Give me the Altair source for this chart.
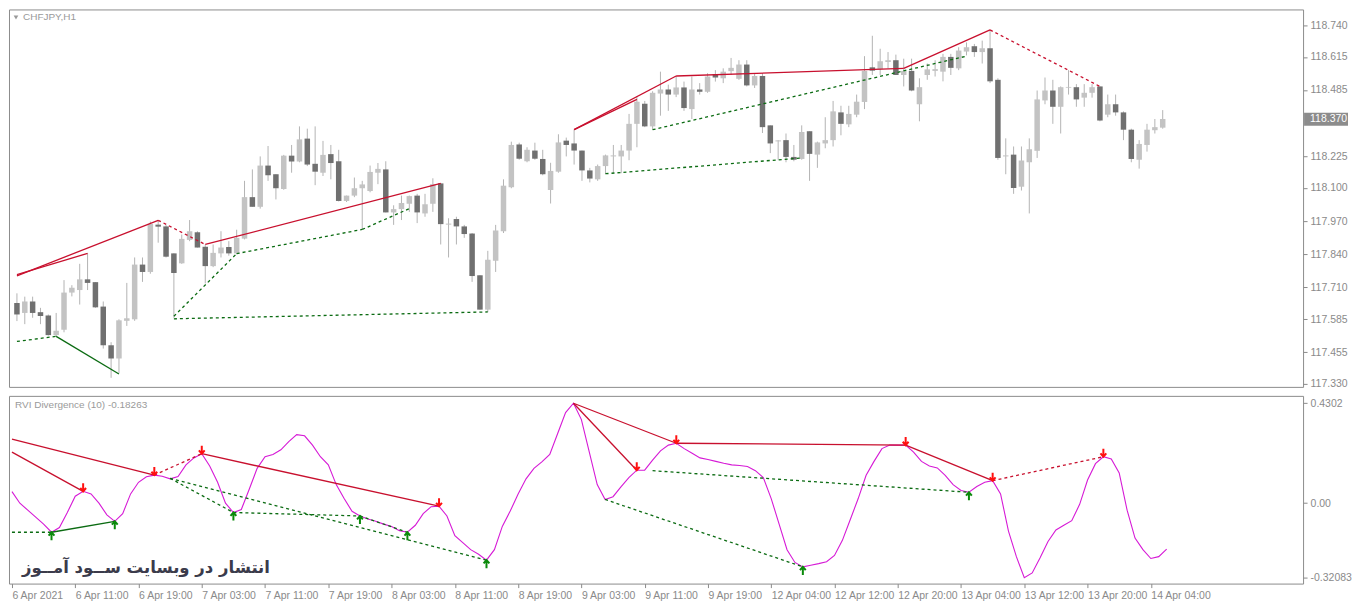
import json
import altair as alt
import pandas as pd

# ---------------- data ----------------
symbol_title = "CHFJPY,H1"
ind_title = "RVI Divergence (10) -0.18263"
watermark = "انتشار در وبسایت ســود آمــوز"

tick_labels = ["6 Apr 2021", "6 Apr 11:00", "6 Apr 19:00", "7 Apr 03:00", "7 Apr 11:00",
               "7 Apr 19:00", "8 Apr 03:00", "8 Apr 11:00", "8 Apr 19:00", "9 Apr 03:00",
               "9 Apr 11:00", "9 Apr 19:00", "12 Apr 04:00", "12 Apr 12:00", "12 Apr 20:00",
               "13 Apr 04:00", "13 Apr 12:00", "13 Apr 20:00", "14 Apr 04:00"]
tick_bars = [8 * k for k in range(len(tick_labels))]

price_ticks = [118.740, 118.615, 118.485, 118.225, 118.100, 117.970,
               117.840, 117.710, 117.585, 117.455, 117.330]
last_price = [118.370]

open_ = [117.648, 117.609, 117.654, 117.612, 117.599, 117.522, 117.543, 117.689, 117.699, 117.741,
         117.730, 117.634, 117.482, 117.430, 117.578, 117.584, 117.799, 117.770, 117.956, 117.949,
         117.843, 117.804, 117.896, 117.926, 117.869, 117.793, 117.843, 117.868, 117.843, 117.901,
         118.064, 118.026, 118.188, 118.154, 118.096, 118.227, 118.204, 118.294, 118.195, 118.160,
         118.233, 118.205, 118.049, 118.070, 118.099, 118.088, 118.160, 118.173, 118.004, 118.017,
         118.038, 118.070, 118.000, 118.038, 118.118, 117.956, 117.978, 117.949, 117.921, 117.757,
         117.622, 117.814, 117.930, 118.103, 118.271, 118.205, 118.247, 118.214, 118.092, 118.164,
         118.286, 118.275, 118.247, 118.169, 118.134, 118.186, 118.224, 118.224, 118.247, 118.352,
         118.431, 118.342, 118.471, 118.487, 118.467, 118.495, 118.410, 118.487, 118.478, 118.547,
         118.531, 118.559, 118.529, 118.585, 118.503, 118.540, 118.346, 118.283, 118.288, 118.222,
         118.214, 118.323, 118.231, 118.275, 118.288, 118.397, 118.350, 118.388, 118.438, 118.574,
         118.567, 118.595, 118.602, 118.544, 118.560, 118.429, 118.544, 118.560, 118.557, 118.615,
         118.570, 118.636, 118.657, 118.634, 118.649, 118.525, 118.224, 118.231, 118.105, 118.201,
         118.246, 118.444, 118.483, 118.419, 118.494, 118.496, 118.455, 118.474, 118.499, 118.388,
         118.429, 118.397, 118.329, 118.211, 118.269, 118.327, 118.337]
high = [117.686, 117.673, 117.673, 117.629, 117.603, 117.609, 117.738, 117.718, 117.802, 117.843,
        117.730, 117.654, 117.494, 117.584, 117.727, 117.827, 117.827, 117.968, 117.973, 117.955,
        117.843, 117.917, 117.974, 117.930, 117.878, 117.878, 117.930, 117.891, 117.936, 118.128,
        118.173, 118.224, 118.265, 118.154, 118.230, 118.269, 118.342, 118.333, 118.342, 118.285,
        118.269, 118.250, 118.070, 118.141, 118.128, 118.188, 118.198, 118.205, 118.032, 118.070,
        118.070, 118.077, 118.077, 118.138, 118.118, 117.981, 117.987, 117.955, 117.923, 117.757,
        117.853, 117.955, 118.134, 118.282, 118.278, 118.260, 118.278, 118.250, 118.199, 118.311,
        118.298, 118.329, 118.247, 118.179, 118.192, 118.231, 118.269, 118.269, 118.391, 118.461,
        118.442, 118.480, 118.557, 118.506, 118.540, 118.518, 118.538, 118.512, 118.551, 118.563,
        118.570, 118.611, 118.602, 118.602, 118.551, 118.551, 118.346, 118.288, 118.314, 118.269,
        118.346, 118.323, 118.282, 118.378, 118.442, 118.423, 118.423, 118.467, 118.618, 118.698,
        118.647, 118.634, 118.624, 118.608, 118.608, 118.531, 118.589, 118.602, 118.627, 118.627,
        118.653, 118.672, 118.666, 118.679, 118.721, 118.531, 118.295, 118.263, 118.263, 118.295,
        118.483, 118.534, 118.525, 118.499, 118.563, 118.508, 118.508, 118.508, 118.499, 118.467,
        118.467, 118.401, 118.333, 118.288, 118.352, 118.371, 118.406]
low = [117.577, 117.565, 117.590, 117.565, 117.520, 117.514, 117.533, 117.674, 117.642, 117.699,
       117.629, 117.469, 117.354, 117.373, 117.558, 117.578, 117.731, 117.763, 117.885, 117.827,
       117.590, 117.802, 117.891, 117.866, 117.725, 117.789, 117.827, 117.834, 117.840, 117.898,
       118.026, 118.019, 118.128, 118.055, 118.093, 118.160, 118.201, 118.186, 118.111, 118.147,
       118.134, 118.047, 118.045, 118.064, 117.936, 118.083, 118.115, 118.004, 117.955, 117.974,
       118.006, 117.962, 117.987, 118.006, 117.878, 117.827, 117.878, 117.904, 117.731, 117.622,
       117.612, 117.770, 117.923, 118.099, 118.211, 118.201, 118.211, 118.150, 118.039, 118.160,
       118.224, 118.192, 118.128, 118.122, 118.128, 118.154, 118.160, 118.158, 118.209, 118.260,
       118.339, 118.329, 118.384, 118.403, 118.457, 118.403, 118.371, 118.467, 118.474, 118.518,
       118.512, 118.544, 118.525, 118.499, 118.493, 118.316, 118.237, 118.211, 118.201, 118.205,
       118.211, 118.128, 118.179, 118.256, 118.263, 118.307, 118.339, 118.378, 118.410, 118.544,
       118.544, 118.570, 118.544, 118.499, 118.480, 118.362, 118.525, 118.538, 118.519, 118.544,
       118.563, 118.621, 118.615, 118.589, 118.512, 118.211, 118.154, 118.077, 118.090, 118.000,
       118.218, 118.429, 118.352, 118.314, 118.467, 118.419, 118.419, 118.455, 118.362, 118.378,
       118.384, 118.288, 118.201, 118.176, 118.243, 118.314, 118.333]
close = [117.603, 117.654, 117.609, 117.597, 117.522, 117.539, 117.689, 117.708, 117.741, 117.727,
         117.631, 117.482, 117.430, 117.580, 117.588, 117.799, 117.770, 117.959, 117.948, 117.830,
         117.766, 117.900, 117.930, 117.866, 117.793, 117.845, 117.866, 117.843, 117.904, 118.064,
         118.026, 118.188, 118.150, 118.099, 118.227, 118.204, 118.291, 118.192, 118.164, 118.230,
         118.198, 118.049, 118.070, 118.099, 118.114, 118.163, 118.175, 118.004, 118.017, 118.041,
         118.068, 118.004, 118.036, 118.115, 117.958, 117.960, 117.949, 117.919, 117.754, 117.622,
         117.818, 117.933, 118.109, 118.269, 118.215, 118.250, 118.215, 118.154, 118.167, 118.279,
         118.269, 118.247, 118.169, 118.137, 118.186, 118.228, 118.228, 118.247, 118.352, 118.439,
         118.342, 118.474, 118.487, 118.467, 118.495, 118.414, 118.487, 118.478, 118.538, 118.534,
         118.557, 118.572, 118.585, 118.503, 118.540, 118.339, 118.275, 118.287, 118.222, 118.211,
         118.320, 118.234, 118.279, 118.288, 118.401, 118.352, 118.391, 118.439, 118.560, 118.561,
         118.598, 118.602, 118.544, 118.560, 118.483, 118.496, 118.566, 118.567, 118.615, 118.572,
         118.640, 118.653, 118.634, 118.649, 118.519, 118.218, 118.228, 118.100, 118.208, 118.252,
         118.448, 118.483, 118.419, 118.496, 118.497, 118.448, 118.474, 118.496, 118.365, 118.429,
         118.397, 118.329, 118.214, 118.273, 118.329, 118.339, 118.371]

rvi = [0.05, 0.0, -0.03, -0.06, -0.09, -0.125, -0.105, -0.04, 0.03, 0.051,
       0.04, 0.0, -0.05, -0.078, -0.045, 0.04, 0.09, 0.114, 0.121, 0.116,
       0.105, 0.115, 0.165, 0.195, 0.213, 0.16, 0.09, 0.0, -0.04, -0.027,
       0.06, 0.15, 0.2, 0.21, 0.23, 0.265, 0.295, 0.29, 0.25, 0.2,
       0.165, 0.08, 0.02, -0.035, -0.055, -0.068, -0.078, -0.09, -0.1, -0.118,
       -0.125, -0.095, -0.045, -0.015, -0.013, -0.055, -0.14, -0.17, -0.2, -0.22,
       -0.245, -0.2, -0.1, -0.034, 0.04, 0.105, 0.15, 0.178, 0.21, 0.3,
       0.39, 0.4302, 0.36, 0.22, 0.08, 0.016, 0.028, 0.07, 0.11, 0.142,
       0.142, 0.185, 0.225, 0.25, 0.258, 0.235, 0.215, 0.195, 0.188, 0.18,
       0.172, 0.165, 0.162, 0.158, 0.14, 0.11, 0.02, -0.09, -0.2, -0.255,
       -0.274, -0.267, -0.26, -0.252, -0.225, -0.16, -0.07, 0.02, 0.12, 0.18,
       0.235, 0.25, 0.25, 0.25, 0.22, 0.18, 0.16, 0.152, 0.12, 0.08,
       0.055, 0.047, 0.072, 0.09, 0.097, 0.04, -0.12, -0.23, -0.3208, -0.3,
       -0.235, -0.165, -0.115, -0.095, -0.075, -0.005, 0.1, 0.17, 0.2, 0.19,
       0.13, -0.03, -0.15, -0.2, -0.238, -0.23, -0.198]

sell_bars = [9, 18, 24, 54, 79, 84, 113, 124, 138]
sell_vals = [0.051, 0.121, 0.213, -0.013, 0.142, 0.258, 0.25, 0.097, 0.2]
buy_bars = [5, 13, 28, 44, 50, 60, 100, 121]
buy_vals = [-0.125, -0.078, -0.04, -0.055, -0.125, -0.245, -0.274, 0.047]

# divergence segments: start bar, start value, end bar, end value, kind, style
price_seg_b1 = [0, 0, 18, 24, 71, 71, 84, 113, 124, 0, 5, 20, 20, 28, 44, 75, 81]
price_seg_p1 = [117.755, 117.760, 117.973, 117.878, 118.329, 118.329, 118.540, 118.570, 118.721,
                117.497, 117.517, 117.586, 117.596, 117.842, 117.937, 118.156, 118.329]
price_seg_b2 = [18, 9, 24, 54, 84, 79, 113, 124, 138, 5, 13, 60, 28, 44, 50, 100, 121]
price_seg_p2 = [117.973, 117.843, 117.878, 118.118, 118.540, 118.448, 118.570, 118.721, 118.499,
                117.517, 117.369, 117.613, 117.842, 117.937, 118.019, 118.218, 118.618]
seg_kind = ["bear"] * 9 + ["bull"] * 8
seg_style = ["solid", "solid", "dashed", "solid", "solid", "solid", "solid", "solid", "dashed",
             "dashed", "solid", "dashed", "dashed", "dashed", "dashed", "dashed", "dashed"]
ind_seg_b1 = [0, 0, 18, 24, 71, 71, 84, 113, 124, 0, 5, 20, 20, 28, 44, 75, 81]
ind_seg_v1 = [0.276, 0.22, 0.121, 0.213, 0.4302, 0.4302, 0.258, 0.25, 0.097,
              -0.125, -0.125, 0.107, 0.107, -0.04, -0.055, 0.016, 0.14]
ind_seg_b2 = [18, 9, 24, 54, 84, 79, 113, 124, 138, 5, 13, 60, 28, 44, 50, 100, 121]
ind_seg_v2 = [0.121, 0.051, 0.213, -0.013, 0.258, 0.142, 0.25, 0.097, 0.2,
              -0.125, -0.078, -0.245, -0.04, -0.055, -0.125, -0.274, 0.047]

ind_ticks = [0.4302, 0.0, -0.32083]
ind_tick_text = ["0.4302", "0.00", "-0.32083"]

# ---------------- styling ----------------
W = 1296
H_TOP = 378
H_BOT = 188
X_DOM = [-0.375, 163.25]
P_DOM = [117.3185, 118.8015]
V_DOM = [-0.346, 0.462]
FONT = "Liberation Sans"
AX_COL = "#8a8a8a"
RED = "#c8102e"
GREEN = "#0b6b12"

bars = list(range(len(open_)))
candles = pd.DataFrame({"bar": bars, "open": open_, "high": high, "low": low, "close": close})
candles["dir"] = ["up" if c >= o else "down" for o, c in zip(open_, close)]

xs = alt.Scale(domain=X_DOM, nice=False, zero=False)
ps = alt.Scale(domain=P_DOM, nice=False, zero=False)
vs = alt.Scale(domain=V_DOM, nice=False, zero=False)

price_axis = alt.Axis(orient="right", values=price_ticks, format=".3f", grid=False, domain=False,
                      tickSize=4, tickColor=AX_COL, labelColor=AX_COL, labelFont=FONT,
                      labelFontSize=10.5, labelPadding=3, labelOverlap=False, labelBound=False)

label_map = json.dumps({("%g" % v): t for v, t in zip(ind_ticks, ind_tick_text)})
ind_axis = alt.Axis(orient="right", values=ind_ticks, grid=False, domain=False, tickSize=4,
                    tickColor=AX_COL, labelColor=AX_COL, labelFont=FONT, labelFontSize=10.5,
                    labelPadding=3, labelOverlap=False, labelBound=False,
                    labelExpr=f"{label_map}[toString(datum.value)]")
x_axis = alt.Axis(values=tick_bars, labelExpr=f"{json.dumps(tick_labels)}[round(datum.value/8)]",
                  labelAlign="left", labelFlush=False, labelOverlap=False, labelPadding=3, tickSize=4,
                  tickColor=AX_COL, labelColor=AX_COL, labelFont=FONT, labelFontSize=10.5,
                  domain=False, grid=False, labelBound=False)

wicks = alt.Chart(candles).mark_rule(color="#b4b4b4", strokeWidth=1).encode(
    x=alt.X("bar:Q", scale=xs, axis=None),
    y=alt.Y("low:Q", scale=ps, axis=price_axis, title=None),
    y2="high:Q",
)
bodies = alt.Chart(candles).mark_bar(size=5.5, opacity=1).encode(
    x=alt.X("bar:Q", scale=xs, axis=None),
    y=alt.Y("open:Q", scale=ps, axis=price_axis, title=None),
    y2="close:Q",
    color=alt.Color("dir:N", scale=alt.Scale(domain=["up", "down"], range=["#c3c3c3", "#707070"]),
                    legend=None),
)

pseg = pd.DataFrame({"b1": price_seg_b1, "p1": price_seg_p1, "b2": price_seg_b2, "p2": price_seg_p2,
                     "kind": seg_kind, "style": seg_style})
iseg = pd.DataFrame({"b1": ind_seg_b1, "p1": ind_seg_v1, "b2": ind_seg_b2, "p2": ind_seg_v2,
                     "kind": seg_kind, "style": seg_style})


def seg_layers(df, yscale, yaxis, xaxis):
    out = []
    for kind, col in (("bear", RED), ("bull", GREEN)):
        for style in ("solid", "dashed"):
            sub = df[(df["kind"] == kind) & (df["style"] == style)]
            if len(sub) == 0:
                continue
            props = dict(color=col, strokeWidth=1.3)
            if style == "dashed":
                props["strokeDash"] = [3, 3]
            out.append(alt.Chart(sub).mark_rule(**props).encode(
                x=alt.X("b1:Q", scale=xs, axis=xaxis, title=None), x2="b2:Q",
                y=alt.Y("p1:Q", scale=yscale, axis=yaxis, title=None), y2="p2:Q"))
    return out


title_top = alt.Chart(pd.DataFrame({"t": [symbol_title]})).mark_text(
    align="left", baseline="middle", font=FONT, fontSize=10, color="#9a9a9a").encode(
    text="t:N", x=alt.value(14), y=alt.value(8))
tri = alt.Chart(pd.DataFrame({"t": [symbol_title]})).mark_point(
    shape="triangle-down", filled=True, size=22, color="#9a9a9a", opacity=1).encode(
    x=alt.value(7), y=alt.value(8))

lp = pd.DataFrame({"p": last_price})
lp_box = alt.Chart(lp).mark_rect(color="#8c8c8c", yOffset=-6.5, y2Offset=6.5).encode(
    x=alt.value(W + 1), x2=alt.value(W + 45), y=alt.Y("p:Q", scale=ps, axis=price_axis, title=None),
    y2="p:Q")
lp_text = alt.Chart(lp).mark_text(align="left", baseline="middle", font=FONT, fontSize=10.5,
                                  color="white").encode(
    x=alt.value(W + 7), y=alt.Y("p:Q", scale=ps, axis=price_axis, title=None),
    text=alt.Text("p:Q", format=".3f"))

top = alt.layer(wicks, bodies, *seg_layers(pseg, ps, price_axis, None), title_top, tri, lp_box,
                lp_text).properties(width=W, height=H_TOP)

# ---------------- indicator panel ----------------
rvi_df = pd.DataFrame({"bar": bars, "val": rvi})
rvi_line = alt.Chart(rvi_df).mark_line(color="#d61ad6", strokeWidth=1.1).encode(
    x=alt.X("bar:Q", scale=xs, axis=x_axis, title=None),
    y=alt.Y("val:Q", scale=vs, axis=ind_axis, title=None))

down_path = "M0,-1.8L0,0M-0.65,-0.75L0,0L0.65,-0.75"
up_path = "M0,1.8L0,0M-0.65,0.75L0,0L0.65,0.75"
sell = alt.Chart(pd.DataFrame({"bar": sell_bars, "val": sell_vals})).mark_point(
    shape=down_path, filled=False, strokeWidth=2, size=80, color="#ff1010", opacity=1).encode(
    x=alt.X("bar:Q", scale=xs, axis=x_axis, title=None),
    y=alt.Y("val:Q", scale=vs, axis=ind_axis, title=None))
buy = alt.Chart(pd.DataFrame({"bar": buy_bars, "val": buy_vals})).mark_point(
    shape=up_path, filled=False, strokeWidth=2, size=80, color="#0a8a0a", opacity=1).encode(
    x=alt.X("bar:Q", scale=xs, axis=x_axis, title=None),
    y=alt.Y("val:Q", scale=vs, axis=ind_axis, title=None))

ind_text = alt.Chart(pd.DataFrame({"t": [ind_title]})).mark_text(
    align="left", baseline="middle", font=FONT, fontSize=10, color="#9a9a9a").encode(
    text="t:N", x=alt.value(6), y=alt.value(9))
wm = alt.Chart(pd.DataFrame({"t": [watermark]})).mark_text(
    align="left", baseline="middle", font="DejaVu Sans", fontSize=16.5, fontWeight="bold",
    color="#3b3b4b").encode(text="t:N", x=alt.value(13), y=alt.value(172))

bottom = alt.layer(rvi_line, *seg_layers(iseg, vs, ind_axis, x_axis), sell, buy, ind_text,
                   wm).properties(width=W, height=H_BOT)

chart = alt.vconcat(top, bottom, spacing=4).properties(padding=0, background="white").configure_view(
    stroke="#8c8c8c", strokeWidth=1)

chart.save("out.html", embed_options={"renderer": "svg", "actions": False})
